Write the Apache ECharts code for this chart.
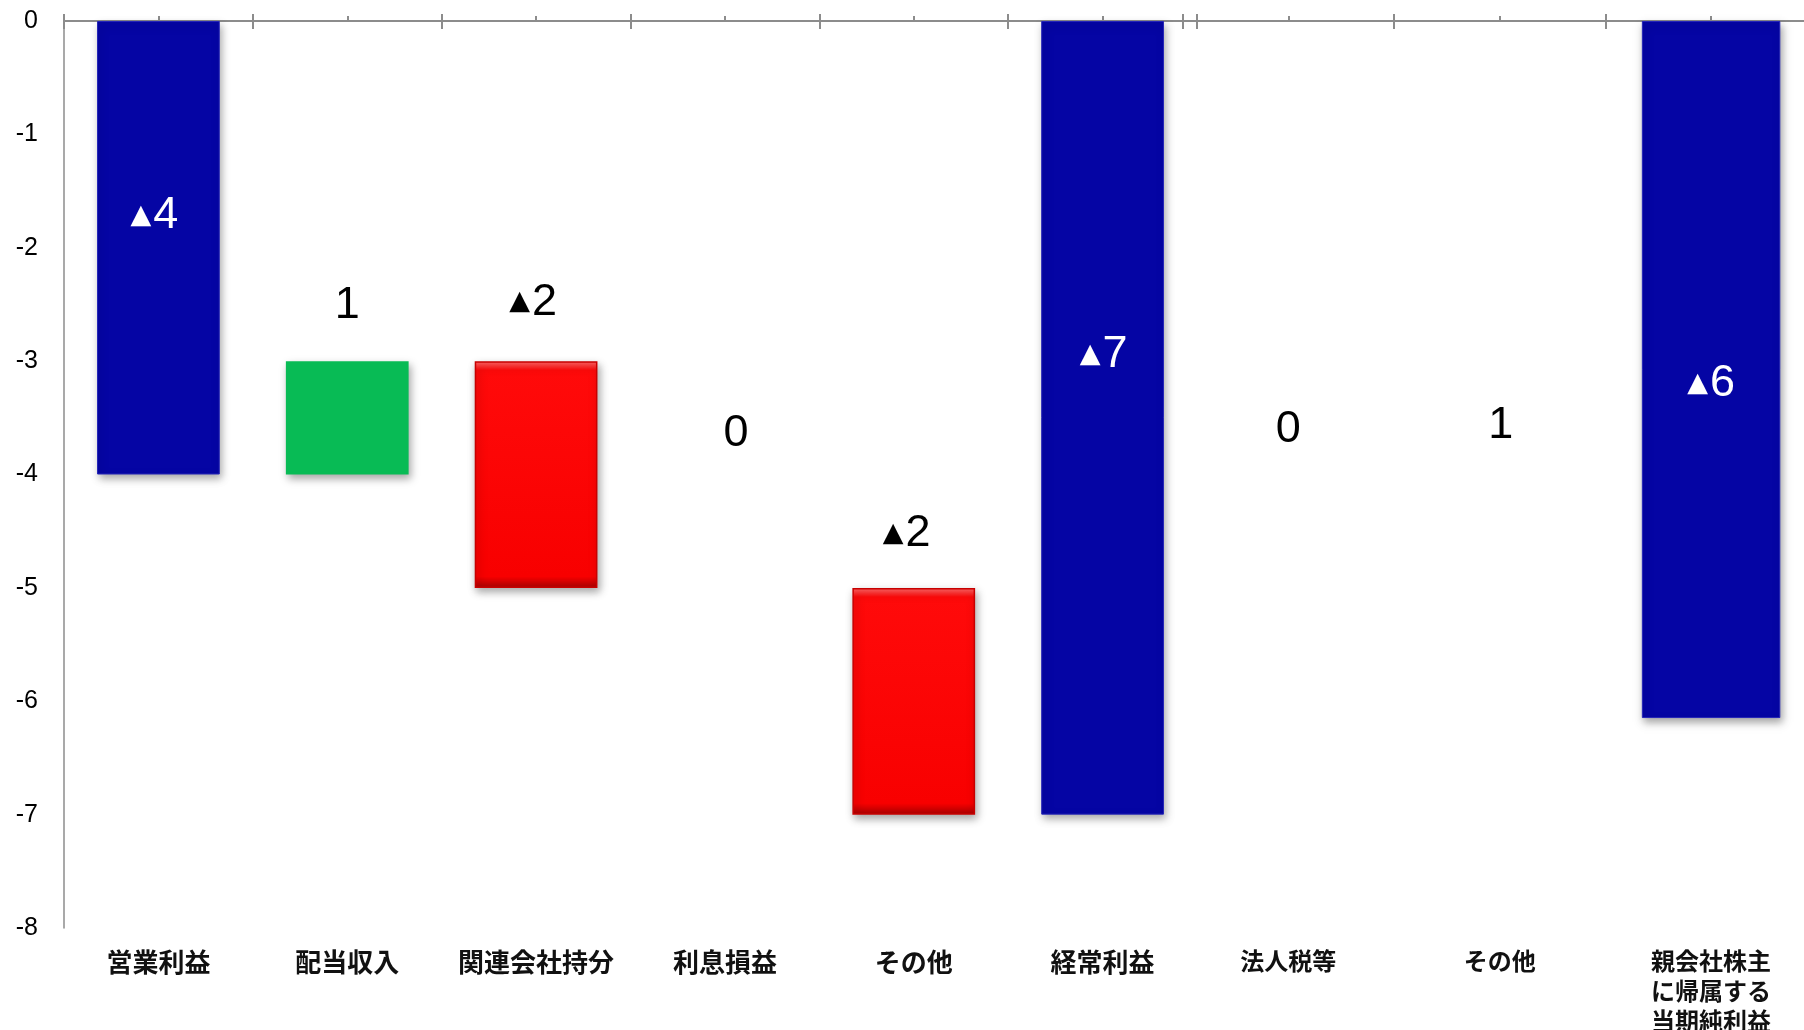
<!DOCTYPE html>
<html>
<head>
<meta charset="utf-8">
<title>経常利益・当期純利益 増減要因</title>
<script src="https://cdn.jsdelivr.net/npm/echarts@6/dist/echarts.min.js"></script>
<style>
  html, body { margin: 0; padding: 0; background: #ffffff; }
  #chart { width: 1804px; height: 1030px; }
</style>
</head>
<body>
<div id="chart"></div>
<script>
// ---- data ---------------------------------------------------------------
// Ordinary profit bridge (left panel)
const leftCategories = ['営業利益', '配当収入', '関連会社持分', '利息損益', 'その他', '経常利益'];
const leftChanges    = [-4, 1, -2, 0, -2, -7];
const leftKinds      = ['total', 'up', 'down', 'flat', 'down', 'total'];

// Net income bridge (right panel), continuing from 経常利益
const rightCategories = ['法人税等', 'その他', '親会社株主\nに帰属する\n当期純利益'];
const rightChanges    = [0, 1, -6];
const rightKinds      = ['flat', 'up', 'total'];

// value axis
const yMin = -8;
const yMax = 0;
const yStep = 1;

// ---- waterfall layout ---------------------------------------------------
// Every bar is an invisible base (edge nearer zero) plus a visible span.
function bridge(changes, kinds, start) {
  let run = start;
  const base = [], span = [];
  changes.forEach((c, i) => {
    const from = kinds[i] === 'total' ? 0 : run;
    const to = kinds[i] === 'total' ? c : run + c;
    run = to;
    const hi = Math.max(from, to), lo = Math.min(from, to);
    base.push(hi);
    span.push(lo - hi);
  });
  return { base, span, end: run };
}
const left = bridge(leftChanges, leftKinds, 0);
const right = bridge(rightChanges, rightKinds, left.end);

// ---- styles -------------------------------------------------------------
const AXIS_GREY = '#8c8c8c';
const NUM_FONT = '"Liberation Sans", Arial, Helvetica, sans-serif';
const JP_FONT = '"Noto Sans CJK JP", "Noto Sans CJK SC", sans-serif';

const shadow = { shadowColor: 'rgba(0,0,0,0.35)', shadowBlur: 8, shadowOffsetX: 2, shadowOffsetY: 4 };
const redBevel = new echarts.graphic.LinearGradient(0, 0, 0, 1, [
  { offset: 0, color: '#ff6a6a' },
  { offset: 0.04, color: '#ff0a0a' },
  { offset: 0.95, color: '#f80000' },
  { offset: 1, color: '#a80000' }
]);
function barStyle(kind, unfilled) {
  if (unfilled || kind === 'flat') return { color: 'rgba(0,0,0,0)' };
  if (kind === 'total') return Object.assign({ color: '#0505a4', borderColor: '#2525b8', borderWidth: 1 }, shadow);
  if (kind === 'up') return Object.assign({ color: '#08bb55' }, shadow);
  return Object.assign({ color: redBevel, borderColor: '#c80000', borderWidth: 1.5 }, shadow);
}

// items drawn without fill on the right panel
const rightUnfilled = [1];

// value label anchors: position on the bar and pixel nudge [dx, dy]
const leftLabelPlace = [
  { pos: 'inside', off: [-4, -32] },
  { pos: 'top', off: [0, -33] },
  { pos: 'top', off: [-3, -36] },
  { pos: 'top', off: [11, -131] },
  { pos: 'top', off: [-7, -31] },
  { pos: 'inside', off: [1, -63] }
];
const rightLabelPlace = [
  { pos: 'top', off: [0, -382] },
  { pos: 'top', off: [1, -269] },
  { pos: 'inside', off: [0, 14] }
];

function richFor(color) {
  return {
    t: { fontFamily: 'DejaVu Sans, sans-serif', fontSize: 27, color: color, lineHeight: 46, verticalAlign: 'middle', padding: [0, 2, 0, 0] },
    v: { fontFamily: NUM_FONT, fontSize: 45, color: color, lineHeight: 46, verticalAlign: 'middle' }
  };
}
function valueText(c) {
  return c < 0 ? '{t|▲}{v|' + Math.abs(c) + '}' : '{v|' + c + '}';
}

function spanItems(panel, changes, kinds, place, unfilled) {
  return panel.span.map((v, i) => ({
    value: v,
    itemStyle: barStyle(kinds[i], unfilled.includes(i)),
    label: {
      show: true,
      position: place[i].pos,
      distance: 0,
      offset: place[i].off,
      formatter: () => valueText(changes[i]),
      rich: richFor(kinds[i] === 'total' ? '#ffffff' : '#000000')
    }
  }));
}

// ---- axes ---------------------------------------------------------------
function topAxes(gridIndex, cats) {
  const common = { type: 'category', gridIndex, data: cats, position: 'top', axisLabel: { show: false }, splitLine: { show: false } };
  return [
    // axis line with boundary ticks pointing up
    Object.assign({}, common, {
      axisLine: { show: true, onZero: false, lineStyle: { color: AXIS_GREY, width: 2 } },
      axisTick: { show: true, interval: 0, length: 7, lineStyle: { color: AXIS_GREY, width: 2 } }
    }),
    // same boundary ticks continuing below the line
    Object.assign({}, common, {
      axisLine: { show: false, onZero: false },
      axisTick: { show: true, interval: 0, inside: true, length: 8, lineStyle: { color: AXIS_GREY, width: 2 } }
    }),
    // short ticks at category centres
    Object.assign({}, common, {
      axisLine: { show: false, onZero: false },
      axisTick: { show: true, interval: 0, alignWithLabel: true, length: 5, lineStyle: { color: AXIS_GREY, width: 2 } }
    })
  ];
}
function labelAxis(gridIndex, cats, fontSize, lineHeight, margin) {
  return {
    type: 'category', gridIndex, data: cats, position: 'bottom',
    axisLine: { show: false, onZero: false }, axisTick: { show: false }, splitLine: { show: false },
    axisLabel: { show: true, interval: 0, margin, fontFamily: JP_FONT, fontWeight: 'bold', fontSize, lineHeight, color: '#111111' }
  };
}

const xAxes = [].concat(
  topAxes(0, leftCategories), [labelAxis(0, leftCategories, 26, 28, 20)],
  topAxes(1, rightCategories), [labelAxis(1, rightCategories, 24, 30, -5)]
);

const option = {
  backgroundColor: '#ffffff',
  animation: false,
  grid: [
    { left: 64, top: 21, width: 1133, height: 907, outerBoundsMode: 'none', containLabel: false },
    { left: 1182.6, top: 21, width: 634.2, height: 929.4, outerBoundsMode: 'none', containLabel: false }
  ],
  xAxis: xAxes,
  yAxis: [
    {
      type: 'value', gridIndex: 0, min: yMin, max: yMax, interval: yStep,
      axisLine: { show: true, lineStyle: { color: AXIS_GREY, width: 1.5 } },
      axisTick: { show: false }, splitLine: { show: false },
      axisLabel: { margin: 26, fontFamily: NUM_FONT, fontSize: 25, color: '#000000' }
    },
    { type: 'value', gridIndex: 1, min: yMin, max: yMax, interval: yStep, show: false, splitLine: { show: false } }
  ],
  series: [
    {
      type: 'bar', name: 'base-left', xAxisIndex: 0, yAxisIndex: 0, stack: 'left', silent: true,
      barCategoryGap: '35%', itemStyle: { color: 'rgba(0,0,0,0)' }, data: left.base
    },
    {
      type: 'bar', name: 'left', xAxisIndex: 0, yAxisIndex: 0, stack: 'left',
      barCategoryGap: '35%', data: spanItems(left, leftChanges, leftKinds, leftLabelPlace, [])
    },
    {
      type: 'bar', name: 'base-right', xAxisIndex: 4, yAxisIndex: 1, stack: 'right', silent: true,
      barCategoryGap: '34.5%', itemStyle: { color: 'rgba(0,0,0,0)' }, data: right.base
    },
    {
      type: 'bar', name: 'right', xAxisIndex: 4, yAxisIndex: 1, stack: 'right',
      barCategoryGap: '34.5%', data: spanItems(right, rightChanges, rightKinds, rightLabelPlace, rightUnfilled)
    }
  ]
};

const chart = echarts.init(document.getElementById('chart'), null, { renderer: 'canvas', width: 1804, height: 1030 });
chart.setOption(option);
</script>
</body>
</html>
